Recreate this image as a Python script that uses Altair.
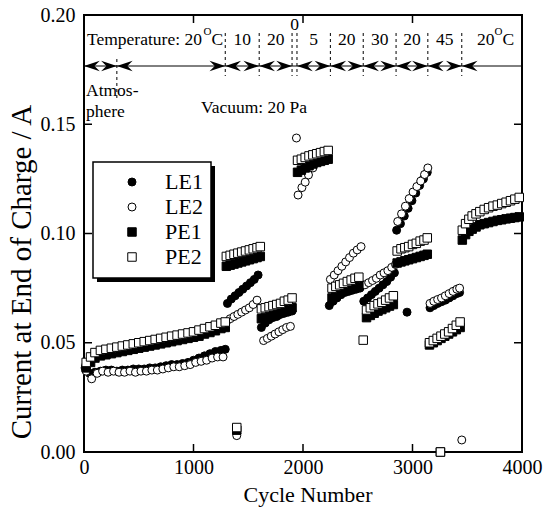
import altair as alt
import pandas as pd

FONT = "Liberation Serif"

# ---------------- data ----------------
le1_cycles = [10, 50, 100, 150, 200, 250, 300, 350, 400, 450, 500, 550, 600, 650, 700, 750, 800, 850, 900, 950,
              1000, 1050, 1100, 1150, 1200, 1250, 1290, 1395,
              1310, 1345, 1380, 1415, 1450, 1485, 1520, 1555, 1590,
              1620, 1655, 1690, 1725, 1760, 1795, 1830, 1865, 1900,
              2240, 2275, 2310, 2345, 2380, 2415, 2450, 2485, 2520,
              2555, 2590, 2625, 2660, 2695, 2730, 2765, 2800, 2835, 2950,
              2855, 2890, 2925, 2960, 2995, 3030, 3065, 3100, 3135,
              3160, 3195, 3230, 3265, 3300, 3335, 3370, 3405, 3430]
le1_values = [0.0385, 0.036, 0.0365, 0.037, 0.0375, 0.0375, 0.037, 0.0375, 0.0375, 0.038, 0.038, 0.038, 0.0385, 0.0385,
              0.039, 0.0395, 0.040, 0.040, 0.0405, 0.041, 0.042, 0.043, 0.044, 0.045, 0.046, 0.0465, 0.047, 0.0085,
              0.068, 0.070, 0.0715, 0.073, 0.0745, 0.076, 0.0775, 0.079, 0.081,
              0.057, 0.059, 0.0605, 0.0615, 0.062, 0.063, 0.0635, 0.064, 0.0645,
              0.067, 0.069, 0.0705, 0.072, 0.073, 0.0735, 0.074, 0.0745, 0.075,
              0.069, 0.0705, 0.072, 0.0735, 0.075, 0.0765, 0.078, 0.080, 0.082, 0.064,
              0.1015, 0.1045, 0.108, 0.1115, 0.115, 0.1185, 0.122, 0.125, 0.128,
              0.066, 0.067, 0.068, 0.0688, 0.0695, 0.0705, 0.0715, 0.0725, 0.073]

le2_cycles = [20, 70, 120, 170, 220, 270, 320, 370, 420, 470, 520, 570, 620, 670, 720, 770, 820, 870, 920, 970,
              1020, 1070, 1120, 1170, 1220, 1270, 1395,
              1300, 1335, 1370, 1405, 1440, 1475, 1510, 1545, 1580,
              1640, 1675, 1710, 1745, 1780, 1815, 1850, 1885,
              1940, 1955, 1990, 2020, 2050, 2090, 2130, 2170, 2210,
              2250, 2285, 2320, 2355, 2390, 2425, 2460, 2495, 2530,
              2565, 2600, 2635, 2670, 2705, 2740, 2775, 2810, 2845,
              2865, 2900, 2935, 2970, 3005, 3040, 3075, 3110, 3140,
              3160, 3195, 3230, 3265, 3300, 3335, 3370, 3405, 3430, 3450]
le2_values = [0.037, 0.0335, 0.036, 0.037, 0.0365, 0.037, 0.0365, 0.0365, 0.037, 0.0365, 0.037, 0.037, 0.0375, 0.0375,
              0.038, 0.0385, 0.039, 0.039, 0.0395, 0.040, 0.041, 0.0415, 0.042, 0.043, 0.0435, 0.0435, 0.0075,
              0.0595, 0.061, 0.062, 0.063, 0.064, 0.065, 0.066, 0.0675, 0.0695,
              0.051, 0.052, 0.053, 0.054, 0.055, 0.056, 0.057, 0.0575,
              0.1437, 0.1176, 0.121, 0.1235, 0.1268, 0.130, 0.1325, 0.134, 0.135,
              0.079, 0.081, 0.083, 0.085, 0.087, 0.089, 0.091, 0.0925, 0.094,
              0.0765, 0.0775, 0.0785, 0.0795, 0.081, 0.082, 0.083, 0.0845, 0.0858,
              0.1055, 0.109, 0.1125, 0.116, 0.119, 0.1215, 0.124, 0.127, 0.130,
              0.068, 0.069, 0.0698, 0.0705, 0.0715, 0.0725, 0.0735, 0.0745, 0.075, 0.0055]

pe1_cycles = [20, 60, 100, 150, 200, 250, 300, 350, 400, 450, 500, 550, 600, 650, 700, 750, 800, 850, 900, 950,
              1000, 1050, 1100, 1150, 1200, 1250, 1290, 1395,
              1300, 1335, 1370, 1405, 1440, 1475, 1510, 1545, 1580, 1610,
              1620, 1655, 1690, 1725, 1760, 1795, 1830, 1865, 1900,
              1950, 1985, 2020, 2055, 2090, 2125, 2160, 2195, 2230,
              2265, 2300, 2335, 2370, 2405, 2440, 2475, 2510,
              2580, 2615, 2650, 2685, 2720, 2755, 2790, 2825,
              2860, 2895, 2930, 2965, 3000, 3035, 3070, 3105, 3135,
              3155, 3190, 3225, 3260, 3295, 3330, 3365, 3400, 3435, 3255,
              3455, 3485, 3515, 3545, 3580, 3615, 3655, 3695, 3735, 3775, 3815, 3855, 3895, 3935, 3975]
pe1_values = [0.0385, 0.041, 0.043, 0.044, 0.0445, 0.045, 0.0455, 0.046, 0.0465, 0.047, 0.0475, 0.048, 0.0485, 0.049,
              0.0495, 0.050, 0.0505, 0.051, 0.0515, 0.052, 0.0525, 0.053, 0.054, 0.0547, 0.0555, 0.0565, 0.057, 0.010,
              0.085, 0.0855, 0.086, 0.0865, 0.087, 0.0875, 0.088, 0.0885, 0.089, 0.0895,
              0.061, 0.0615, 0.062, 0.0625, 0.063, 0.0638, 0.0645, 0.065, 0.066,
              0.128, 0.129, 0.130, 0.131, 0.1318, 0.1325, 0.133, 0.1335, 0.134,
              0.0705, 0.0715, 0.0725, 0.0735, 0.0742, 0.075, 0.0757, 0.0765,
              0.0615, 0.0625, 0.0635, 0.0645, 0.0652, 0.066, 0.0668, 0.0675,
              0.0865, 0.087, 0.0875, 0.088, 0.0885, 0.089, 0.0895, 0.090, 0.0905,
              0.049, 0.050, 0.051, 0.052, 0.053, 0.054, 0.055, 0.056, 0.057, 0.000,
              0.097, 0.0995, 0.101, 0.102, 0.103, 0.104, 0.1045, 0.105, 0.1055, 0.106, 0.1063, 0.1067, 0.107, 0.1073, 0.1076]

pe2_cycles = [20, 60, 100, 150, 200, 250, 300, 350, 400, 450, 500, 550, 600, 650, 700, 750, 800, 850, 900, 950,
              1000, 1050, 1100, 1150, 1200, 1250, 1290, 1395,
              1300, 1335, 1370, 1405, 1440, 1475, 1510, 1545, 1580, 1610,
              1620, 1655, 1690, 1725, 1760, 1795, 1830, 1865, 1900,
              1950, 1985, 2020, 2055, 2090, 2125, 2160, 2195, 2230,
              2265, 2300, 2335, 2370, 2405, 2440, 2475, 2510,
              2550, 2580, 2615, 2650, 2685, 2720, 2755, 2790, 2825,
              2860, 2895, 2930, 2965, 3000, 3035, 3070, 3105, 3135,
              3155, 3190, 3225, 3260, 3295, 3330, 3365, 3400, 3435, 3255,
              3455, 3485, 3515, 3545, 3580, 3615, 3655, 3695, 3735, 3775, 3815, 3855, 3895, 3935, 3975]
pe2_values = [0.041, 0.0435, 0.0455, 0.0465, 0.047, 0.0475, 0.048, 0.0485, 0.049, 0.0495, 0.050, 0.0505, 0.051, 0.0515,
              0.052, 0.0525, 0.053, 0.0535, 0.054, 0.0545, 0.055, 0.0558, 0.0565, 0.0573, 0.058, 0.059, 0.0595, 0.0112,
              0.0895, 0.090, 0.0905, 0.091, 0.0915, 0.092, 0.0925, 0.093, 0.0935, 0.094,
              0.0655, 0.066, 0.0665, 0.067, 0.0675, 0.068, 0.069, 0.0695, 0.0705,
              0.1335, 0.134, 0.1348, 0.1355, 0.136, 0.1365, 0.137, 0.1375, 0.138,
              0.075, 0.0758, 0.0765, 0.0772, 0.078, 0.0787, 0.0795, 0.080,
              0.0512, 0.065, 0.066, 0.067, 0.0678, 0.0685, 0.0695, 0.0705, 0.0715,
              0.092, 0.093, 0.0935, 0.094, 0.095, 0.0955, 0.0965, 0.097, 0.098,
              0.050, 0.051, 0.052, 0.053, 0.054, 0.055, 0.0565, 0.058, 0.0595, 0.000,
              0.1015, 0.1045, 0.1065, 0.108, 0.109, 0.110, 0.111, 0.1118, 0.1125, 0.113, 0.1137, 0.1143, 0.115, 0.1157, 0.1165]

series_names = ["LE1", "LE2", "PE1", "PE2"]
x_ticks = [0, 1000, 2000, 3000, 4000]
y_ticks = [0.0, 0.05, 0.10, 0.15, 0.20]
inner_x_ticks = [1000, 2000, 3000]
inner_y_ticks = [0.05, 0.10, 0.15]

# test condition annotations
boundaries = [300, 1290, 1600, 1900, 1945, 2250, 2550, 2850, 3140, 3450]
head_left = [0, 300, 1290, 1600, 1945, 2250, 2550, 2850, 3140, 3450]
head_right = [300, 1290, 1600, 1900, 2250, 2550, 2850, 3140, 3450]
temp_labels = ["10", "20", "5", "20", "30", "20", "45"]
temp_starts = [1290, 1600, 1945, 2250, 2550, 2850, 3140]
temp_ends = [1600, 1900, 2250, 2550, 2850, 3140, 3450]
zero_label = ["0"]
zero_start = [1900]
zero_end = [1945]

# ---------------- chart ----------------
W, H = 438, 437
dummy = pd.DataFrame({"k": [0]})

xs = alt.Scale(domain=[0, 4000], nice=False, zero=False)
ys = alt.Scale(domain=[0, 0.2], nice=False, zero=False)

x_axis = alt.Axis(values=x_ticks, format="d", title=None, tickSize=0, domain=False, grid=False,
                  labelFont=FONT, labelFontSize=20, labelColor="black", labelPadding=5, labelFlush=False)
y_axis = alt.Axis(values=y_ticks, format=".2f", title=None, tickSize=0, domain=False, grid=False,
                  labelFont=FONT, labelFontSize=20, labelColor="black", labelPadding=9, labelFlush=False)

styles = {
    "LE1": dict(shape="circle", fill="black", size=64),
    "LE2": dict(shape="circle", fill="white", size=64),
    "PE1": dict(shape="square", fill="black", size=72),
    "PE2": dict(shape="square", fill="white", size=72),
}
data_lists = {
    "LE1": (le1_cycles, le1_values),
    "LE2": (le2_cycles, le2_values),
    "PE1": (pe1_cycles, pe1_values),
    "PE2": (pe2_cycles, pe2_values),
}

layers = []
for name in series_names:
    c, v = data_lists[name]
    df = pd.DataFrame({"cycle": c, "value": v})
    st = styles[name]
    layers.append(
        alt.Chart(df).mark_point(filled=True, shape=st["shape"], fill=st["fill"], stroke="black",
                                 strokeWidth=1, size=st["size"], opacity=1).encode(
            x=alt.X("cycle:Q", scale=xs, axis=x_axis),
            y=alt.Y("value:Q", scale=ys, axis=y_axis),
        )
    )

# inward ticks on all four sides
xt = pd.DataFrame({"cycle": inner_x_ticks})
yt = pd.DataFrame({"value": inner_y_ticks})
layers.append(alt.Chart(xt).mark_rule(color="black", strokeWidth=1.5).encode(
    x=alt.X("cycle:Q", scale=xs), y=alt.value(H), y2=alt.value(H - 8)))
layers.append(alt.Chart(xt).mark_rule(color="black", strokeWidth=1.5).encode(
    x=alt.X("cycle:Q", scale=xs), y=alt.value(0), y2=alt.value(8)))
layers.append(alt.Chart(yt).mark_rule(color="black", strokeWidth=1.5).encode(
    y=alt.Y("value:Q", scale=ys), x=alt.value(0), x2=alt.value(8)))
layers.append(alt.Chart(yt).mark_rule(color="black", strokeWidth=1.5).encode(
    y=alt.Y("value:Q", scale=ys), x=alt.value(W), x2=alt.value(W - 8)))

# horizontal arrow line
layers.append(alt.Chart(dummy).mark_rule(color="black", strokeWidth=1).encode(
    x=alt.value(0), x2=alt.value(W), y=alt.value(51)))

# dashed boundaries
bd = pd.DataFrame({"cycle": boundaries[1:]})
layers.append(alt.Chart(bd).mark_rule(color="black", strokeWidth=1, strokeDash=[3, 3]).encode(
    x=alt.X("cycle:Q", scale=xs), y=alt.value(18), y2=alt.value(61)))
layers.append(alt.Chart(pd.DataFrame({"cycle": boundaries[:1]})).mark_rule(
    color="black", strokeWidth=1, strokeDash=[3, 3]).encode(
    x=alt.X("cycle:Q", scale=xs), y=alt.value(44), y2=alt.value(86)))

# arrow heads
LEFT_HEAD = "M0,0L4.5,-1.5L3,0L4.5,1.5Z"
RIGHT_HEAD = "M0,0L-4.5,-1.5L-3,0L-4.5,1.5Z"
layers.append(alt.Chart(pd.DataFrame({"cycle": head_left})).mark_point(
    shape=LEFT_HEAD, filled=True, color="black", size=49, opacity=1, strokeWidth=0).encode(
    x=alt.X("cycle:Q", scale=xs), y=alt.value(51)))
layers.append(alt.Chart(pd.DataFrame({"cycle": head_right})).mark_point(
    shape=RIGHT_HEAD, filled=True, color="black", size=49, opacity=1, strokeWidth=0).encode(
    x=alt.X("cycle:Q", scale=xs), y=alt.value(51)))

# temperature labels
tl = pd.DataFrame({"label": temp_labels, "start": temp_starts, "end": temp_ends})
layers.append(alt.Chart(tl).transform_calculate(mid="(datum.start + datum.end) / 2").mark_text(
    font=FONT, fontSize=17.5, color="black", baseline="middle", align="center").encode(
    x=alt.X("mid:Q", scale=xs), y=alt.value(25), text="label:N"))
zl = pd.DataFrame({"label": zero_label, "start": zero_start, "end": zero_end})
layers.append(alt.Chart(zl).transform_calculate(mid="(datum.start + datum.end) / 2").mark_text(
    font=FONT, fontSize=17.5, color="black", baseline="middle", align="center").encode(
    x=alt.X("mid:Q", scale=xs), y=alt.value(10), text="label:N"))


def txt(s, x, y, size=17.5, align="left", angle=None):
    kw = dict(font=FONT, fontSize=size, color="black", baseline="middle", align=align, text=s)
    if angle is not None:
        kw["angle"] = angle
    return alt.Chart(dummy).mark_text(**kw).encode(x=alt.value(x), y=alt.value(y))


layers += [
    txt("Temperature: 20", 3, 25),
    txt("O", 119.5, 17, size=11),
    txt("C", 127.5, 25),
    txt("20", 393, 25),
    txt("O", 410.5, 17, size=11),
    txt("C", 418.5, 25),
    txt("Atmos-", 2, 76),
    txt("phere", 2, 97),
    txt("Vacuum: 20 Pa", 170, 93, align="center"),
    txt("Cycle Number", 224, 480, size=22, align="center"),
    txt("Current at End of Charge / A", -62, 257, size=29, align="center", angle=270),
]

# legend box with shadow
layers.append(alt.Chart(dummy).mark_rect(color="black").encode(
    x=alt.value(13), x2=alt.value(131), y=alt.value(151), y2=alt.value(267)))
layers.append(alt.Chart(dummy).mark_rect(fill="white", stroke="black", strokeWidth=1.5).encode(
    x=alt.value(9), x2=alt.value(127), y=alt.value(147), y2=alt.value(263)))
for i, name in enumerate(series_names):
    st = styles[name]
    yy = 167 + 25 * i
    layers.append(alt.Chart(dummy).mark_point(filled=True, shape=st["shape"], fill=st["fill"], stroke="black",
                                              strokeWidth=1, size=st["size"], opacity=1).encode(
        x=alt.value(48), y=alt.value(yy)))
    layers.append(txt(name, 81, yy, size=22))

chart = alt.layer(*layers).properties(
    width=W, height=H,
    autosize=alt.AutoSizeParams(type="none"),
    padding={"left": 84, "top": 15, "right": 32, "bottom": 61},
).configure_view(stroke="black", strokeWidth=2)

chart.save("out.html", embed_options={"renderer": "svg", "actions": False})
